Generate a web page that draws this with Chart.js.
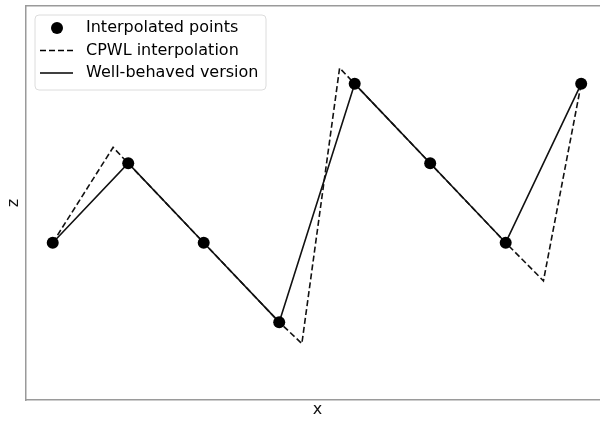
<!DOCTYPE html>
<html>
<head>
<meta charset="utf-8">
<script src="https://cdn.jsdelivr.net/npm/chart.js@4"></script>
<style>
  html, body { margin: 0; padding: 0; background: #fff; overflow: hidden; }
  canvas { display: block; }
</style>
</head>
<body>
<canvas id="cpwlChart" width="605" height="421"></canvas>
<script>
// interpolated points (also the well-behaved version)
const pointX = [0, 1, 2, 3, 4, 5, 6, 7];
const pointZ = [0, 1, 0, -1, 2, 1, 0, 2];

// CPWL interpolation, with its overshooting breakpoints
const cpwlX = [0, 0.8, 1, 2, 3, 3.3, 3.8, 4, 5, 6, 6.5, 7];
const cpwlZ = [0, 1.2, 1, 0, -1, -1.27, 2.2, 2, 1, 0, -0.48, 2];

const labels = ['Interpolated points', 'CPWL interpolation', 'Well-behaved version'];

const toXY = (xs, zs) => xs.map((x, i) => ({ x: x, z: zs[i] }));

const FONT = '"DejaVu Sans", Verdana, sans-serif';
const SPINE = '#9a9a9a';

// matplotlib-like legend box in the upper left of the axes
const boxLegend = {
  id: 'boxLegend',
  afterDraw(chart) {
    const { ctx, chartArea } = chart;
    const x0 = chartArea.left + 9;
    const y0 = chartArea.top + 9;
    ctx.save();
    ctx.beginPath();
    ctx.roundRect(x0, y0, 231, 75, 4);
    ctx.fillStyle = 'rgba(255,255,255,0.8)';
    ctx.fill();
    ctx.strokeStyle = '#dcdcdc';
    ctx.lineWidth = 1;
    ctx.stroke();

    chart.data.datasets.forEach((ds, i) => {
      const cy = y0 + 13 + i * 22.5;
      ctx.strokeStyle = '#000';
      ctx.fillStyle = '#000';
      if (ds.showLine === false) {
        ctx.beginPath();
        ctx.arc(x0 + 22, cy, ds.pointRadius, 0, Math.PI * 2);
        ctx.fill();
      } else {
        ctx.lineWidth = ds.borderWidth;
        ctx.setLineDash(ds.borderDash || []);
        ctx.beginPath();
        ctx.moveTo(x0 + 5, cy);
        ctx.lineTo(x0 + 38, cy);
        ctx.stroke();
        ctx.setLineDash([]);
      }
      ctx.font = '16px ' + FONT;
      ctx.textBaseline = 'middle';
      ctx.fillText(ds.label, x0 + 51, cy);
    });
    ctx.restore();
  }
};

const hiddenTicks = { display: false };
const noGrid = { display: false, drawTicks: false };

// the axes run on past the right edge of the picture
const X_MIN = -0.354;
const X_MAX = 7.236;

new Chart(document.getElementById('cpwlChart').getContext('2d'), {
  type: 'line',
  data: {
    datasets: [{
      label: labels[0],
      data: toXY(pointX, pointZ),
      showLine: false,
      pointRadius: 6,
      pointBackgroundColor: '#000',
      pointBorderColor: '#000',
      pointBorderWidth: 0
    }, {
      label: labels[1],
      data: toXY(cpwlX, cpwlZ),
      borderColor: '#111',
      borderWidth: 1.6,
      borderDash: [6, 3],
      pointRadius: 0
    }, {
      label: labels[2],
      data: toXY(pointX, pointZ),
      borderColor: '#111',
      borderWidth: 1.6,
      pointRadius: 0
    }]
  },
  options: {
    responsive: false,
    animation: false,
    parsing: { xAxisKey: 'x', yAxisKey: 'z' },
    layout: { padding: 0 },
    plugins: { legend: { display: false }, tooltip: { enabled: false } },
    scales: {
      x: {
        type: 'linear',
        position: 'bottom',
        min: X_MIN,
        max: X_MAX,
        ticks: hiddenTicks,
        grid: noGrid,
        border: { display: true, color: SPINE, width: 1.5 },
        title: { display: true, text: '  x', color: '#111', font: { family: FONT, size: 16 }, padding: { top: 0, bottom: 2 } },
        afterFit: (scale) => { scale.height = 21; }
      },
      xTop: {
        type: 'linear',
        position: 'top',
        min: X_MIN,
        max: X_MAX,
        ticks: hiddenTicks,
        grid: noGrid,
        border: { display: true, color: SPINE, width: 1.5 },
        afterFit: (scale) => { scale.height = 5; }
      },
      y: {
        type: 'linear',
        position: 'left',
        min: -1.98,
        max: 2.98,
        ticks: hiddenTicks,
        grid: noGrid,
        border: { display: true, color: SPINE, width: 1.5 },
        title: { display: true, text: 'z', color: '#111', font: { family: FONT, size: 16 }, padding: { top: 4, bottom: 0 } },
        afterFit: (scale) => { scale.width = 26; }
      }
    }
  },
  plugins: [boxLegend]
});
</script>
</body>
</html>
